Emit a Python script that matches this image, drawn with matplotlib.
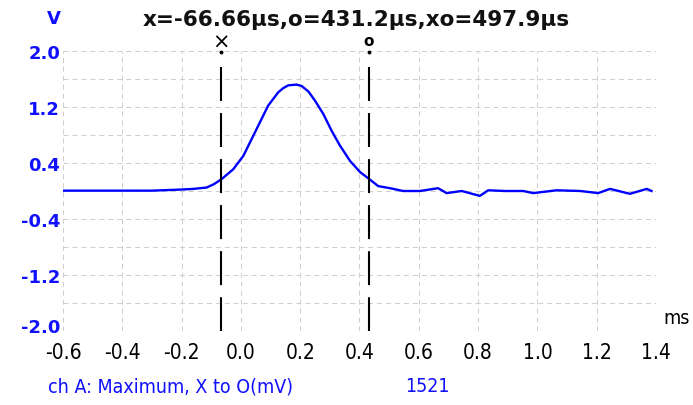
import matplotlib.pyplot as plt
import matplotlib.transforms as mtransforms
import numpy as np

# trace (ms, V)
t_ms = [-0.6, -0.45, -0.3, -0.205, -0.16, -0.115, -0.09, -0.065, -0.026, 0.008,
        0.036, 0.064, 0.092, 0.126, 0.143, 0.160, 0.188, 0.205, 0.228, 0.250,
        0.278, 0.306, 0.334, 0.368, 0.402, 0.430, 0.463, 0.503, 0.547, 0.604,
        0.665, 0.694, 0.745, 0.806, 0.834, 0.891, 0.952, 0.986, 1.065, 1.144,
        1.205, 1.245, 1.312, 1.369, 1.385]
volts = [0.005, 0.005, 0.005, 0.02, 0.03, 0.05, 0.10, 0.17, 0.31, 0.50,
         0.74, 0.98, 1.22, 1.41, 1.47, 1.51, 1.52, 1.50, 1.42, 1.29,
         1.10, 0.86, 0.65, 0.43, 0.27, 0.18, 0.07, 0.04, 0.0, 0.0,
         0.04, -0.03, 0.0, -0.07, 0.01, 0.0, 0.0, -0.03, 0.01, 0.0,
         -0.03, 0.03, -0.04, 0.03, 0.0]

cursor_x = -0.06666
cursor_o = 0.4312
readout = "x=-66.66µs,o=431.2µs,xo=497.9µs"
meas_label = "ch A: Maximum, X to O(mV)"
meas_value = "1521"

xticks = np.arange(-0.6, 1.41, 0.2)
yticks = [2.0, 1.2, 0.4, -0.4, -1.2, -2.0]
yminor = [1.6, 0.8, 0.0, -0.8, -1.6]

blue = "#1010ff"

fig = plt.figure(figsize=(6.93, 4.06), dpi=100)
ax = fig.add_axes([0.0909, 0.1823, 0.8557, 0.6896])

ax.plot(t_ms, volts, color="#0000ff", lw=1.7)

for cx in (cursor_x, cursor_o):
    ax.plot([cx, cx], [1.77, -2.0], color="black", lw=1.5,
            dashes=(16.3, 5.8), clip_on=False)
    ax.plot([cx], [1.99], marker="o", ms=1.8, color="black", clip_on=False)

ax.set_xlim(-0.6, 1.4)
ax.set_ylim(-2.0, 2.0)
ax.set_xticks(xticks)
ax.set_xticklabels([f"{v:.1f}" for v in xticks], fontsize=15,
                   fontstretch="condensed")
ax.set_yticks(yticks)
ax.set_yticks(yminor, minor=True)
ax.set_yticklabels([f"{v:.1f}" for v in yticks], fontsize=13,
                   fontweight="bold", color=blue)
ax.tick_params(axis="both", which="both", length=0)
ax.tick_params(axis="x", pad=8)
ax.tick_params(axis="y", pad=2)
ax.grid(True, which="both", color="#cfcfcf", lw=0.75, dashes=(4.8, 3.8))
for s in ax.spines.values():
    s.set_visible(False)

# bottom y label sits a little above its grid line on the screen
low = ax.yaxis.get_major_ticks()[-1].label1
low.set_transform(low.get_transform()
                  + mtransforms.ScaledTranslation(0, 4 / 72, fig.dpi_scale_trans))

ax.text(cursor_x, 1.035, "×", transform=ax.get_xaxis_transform(),
        ha="center", va="center", fontsize=15, color="black")
ax.text(cursor_o, 1.038, "o", transform=ax.get_xaxis_transform(),
        ha="center", va="center", fontsize=11, fontweight="bold", color="black")

fig.text(0.514, 0.95, readout, ha="center", va="center", fontsize=15.5,
         fontweight="bold", color="#111111")
fig.text(0.077, 0.952, "V", ha="center", va="center", fontsize=13,
         fontweight="bold", color=blue)
fig.text(0.957, 0.215, "ms", ha="left", va="center", fontsize=14,
         fontstretch="condensed", color="black")
fig.text(0.069, 0.048, meas_label, ha="left", va="center", fontsize=14,
         fontstretch="condensed", color=blue)
fig.text(0.584, 0.048, meas_value, ha="left", va="center", fontsize=14,
         fontstretch="condensed", color=blue)

fig.savefig("out.png", dpi=100)
